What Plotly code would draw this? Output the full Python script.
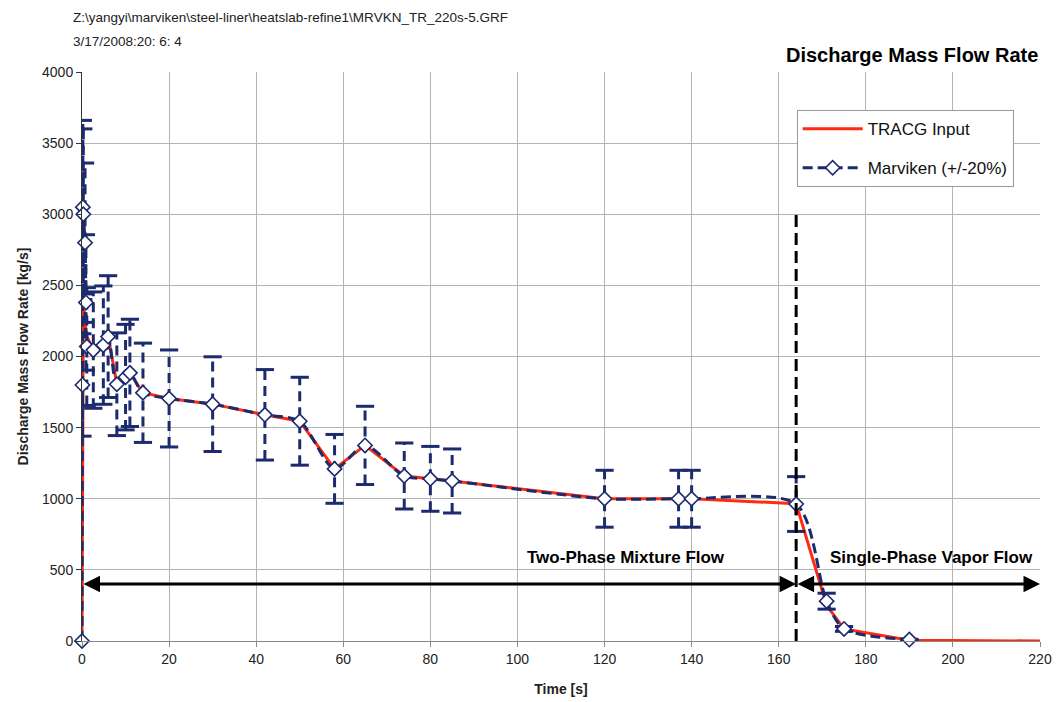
import plotly.graph_objects as go

# ---------------- data ----------------
header_lines = ["Z:\\yangyi\\marviken\\steel-liner\\heatslab-refine1\\MRVKN_TR_220s-5.GRF",
                "3/17/2008:20: 6: 4"]
chart_title = "Discharge Mass Flow Rate"

tracg_time = [0, 0.3, 1, 2.5, 5, 6, 8, 10, 11, 14, 20, 30, 42, 50, 58, 65, 74, 80, 85,
              120, 137, 140, 164, 171, 175, 180, 190, 220]
tracg_flow = [0, 2400, 2150, 2050, 2080, 2140, 1810, 1855, 1885, 1745, 1705, 1665, 1590, 1545,
              1210, 1375, 1160, 1140, 1125, 1000, 1000, 1000, 965, 250, 85, 60, 5, 0]

marv_time = [0, 0.1, 0.2, 0.3, 0.7, 0.9, 1.1, 2.6, 4.9, 6, 8, 10, 11, 14, 20, 30, 42, 50,
             58, 65, 74, 80, 85, 120, 137, 140, 164, 171, 175, 190]
marv_flow = [0, 1800, 3050, 3000, 2800, 2380, 2070, 2045, 2080, 2140, 1805, 1855, 1885, 1745,
             1705, 1665, 1590, 1545, 1210, 1375, 1160, 1140, 1125, 1000, 1000, 1000, 963,
             280, 85, 10]
error_fraction = 0.20

phase_boundary_time = 164.0
boundary_line_top = 3000
arrow_level = 400
x_end = 220
label_two_phase = ("Two-Phase Mixture Flow", 125, 590)
label_single_phase = ("Single-Phase Vapor Flow", 195, 590)

x_ticks = list(range(0, 221, 20))
y_ticks = list(range(0, 4001, 500))

# ---------------- styles ----------------
NAVY = "#1c2a6e"
RED = "#ff2a10"
FONT = "Arial, Liberation Sans, sans-serif"

fig = go.Figure()

fig.add_trace(go.Scatter(x=tracg_time, y=tracg_flow, mode="lines", name="TRACG Input",
                         line=dict(color=RED, width=3), legendgroup="a"))

# error bars (dashed stems + caps)
ex, ey, cx, cy = [], [], [], []
for t, v in zip(marv_time, marv_flow):
    if v <= 0:
        continue
    lo, hi = v * (1 - error_fraction), v * (1 + error_fraction)
    ex += [t, t, None]
    ey += [lo, hi, None]
    cx += [t, t]
    cy += [lo, hi]
fig.add_trace(go.Scatter(x=ex, y=ey, mode="lines", showlegend=False, hoverinfo="skip",
                         line=dict(color=NAVY, width=3, dash="10px,6px")))
fig.add_trace(go.Scatter(x=cx, y=cy, mode="markers", showlegend=False, hoverinfo="skip",
                         marker=dict(symbol="line-ew", size=13, line=dict(color=NAVY, width=3))))

fig.add_trace(go.Scatter(x=marv_time, y=marv_flow, mode="lines+markers", name="Marviken (+/-20%)",
                         line=dict(color=NAVY, width=3, dash="10px,5px", shape="spline", smoothing=0.8),
                         marker=dict(symbol="diamond", size=11, color="white",
                                     line=dict(color=NAVY, width=1.6)),
                         cliponaxis=False, legendgroup="b"))

# phase boundary
fig.add_shape(type="line", xref="x", yref="y", x0=phase_boundary_time, x1=phase_boundary_time,
              y0=0, y1=boundary_line_top, line=dict(color="black", width=3, dash="12px,6px"))

for x0, x1 in [(0, phase_boundary_time), (phase_boundary_time, x_end)]:
    fig.add_annotation(x=x1, y=arrow_level, ax=x0, ay=arrow_level, xref="x", yref="y",
                       axref="x", ayref="y", text="", showarrow=True, arrowhead=2,
                       arrowside="end+start", arrowwidth=3, arrowsize=1.1, arrowcolor="black")

for txt, tx, ty in [label_two_phase, label_single_phase]:
    fig.add_annotation(x=tx, y=ty, xref="x", yref="y", text="<b>%s</b>" % txt, showarrow=False,
                       font=dict(family=FONT, size=17, color="black"))

fig.add_annotation(x=0.9995, y=1.03, xref="paper", yref="paper", xanchor="right", yanchor="middle",
                   text="<b>%s</b>" % chart_title, showarrow=False,
                   font=dict(family=FONT, size=20, color="black"))
for i, line in enumerate(header_lines):
    fig.add_annotation(x=-0.0115, y=1.095 - i * 0.042, xref="paper", yref="paper",
                       xanchor="left", yanchor="middle", text=line, showarrow=False,
                       font=dict(family=FONT, size=13.5, color="#222222"))

fig.update_layout(
    width=1056, height=702,
    margin=dict(l=82, r=16, t=72, b=61, autoexpand=False),
    paper_bgcolor="white", plot_bgcolor="white",
    font=dict(family=FONT, size=13, color="#222222"),
    showlegend=True,
    legend=dict(x=0.746, y=0.933, xanchor="left", yanchor="top",
                bgcolor="white", bordercolor="#999999", borderwidth=1,
                font=dict(family=FONT, size=17, color="#111111"),
                tracegroupgap=14, itemwidth=60),
    xaxis=dict(range=[0, x_end], tickvals=x_ticks, showgrid=True, gridcolor="#b4b4b4",
               gridwidth=1, zeroline=False, showline=True, linecolor="#888888",
               ticks="outside", ticklen=5, tickcolor="#888888", automargin=False,
               title=dict(text="<b>Time [s]</b>", font=dict(family=FONT, size=14), standoff=18),
               tickfont=dict(family=FONT, size=14)),
    yaxis=dict(range=[0, 4000], tickvals=y_ticks, showgrid=True, gridcolor="#b4b4b4",
               gridwidth=1, zeroline=False, showline=True, linecolor="#333333",
               ticks="outside", ticklen=5, tickcolor="#333333", automargin=False,
               title=dict(text="<b>Discharge Mass Flow Rate [kg/s]</b>",
                          font=dict(family=FONT, size=14), standoff=10),
               tickfont=dict(family=FONT, size=14)),
)

fig.write_html("out.html", config={"displayModeBar": False, "responsive": False},
               post_script="document.body.style.margin='0px';")
